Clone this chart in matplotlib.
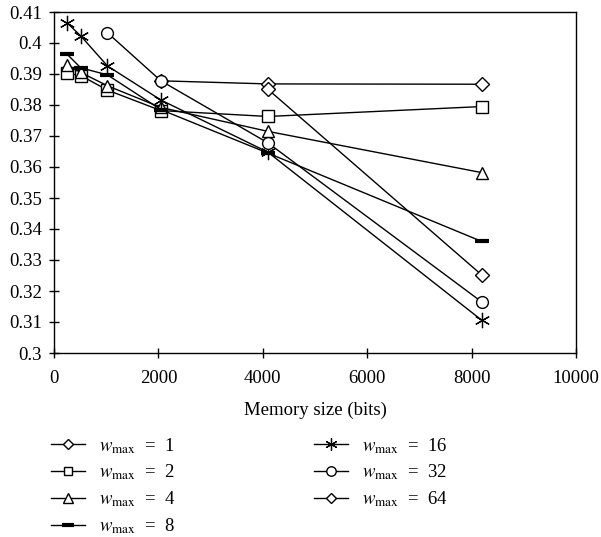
import matplotlib
matplotlib.use("Agg")
import matplotlib.pyplot as plt

plt.rcParams['font.family'] = ['Liberation Serif', 'DejaVu Serif']
plt.rcParams['mathtext.fontset'] = 'stix'

# data
x_w1 = [2048, 4096, 8192]
y_w1 = [0.3878, 0.3868, 0.3867]
x_w2 = [256, 512, 1024, 2048, 4096, 8192]
y_w2 = [0.3902, 0.3895, 0.3848, 0.3782, 0.3763, 0.3795]
x_w4 = [256, 512, 1024, 2048, 4096, 8192]
y_w4 = [0.3928, 0.3905, 0.3862, 0.3792, 0.3715, 0.3582]
x_w8 = [256, 512, 1024, 2048, 4096, 8192]
y_w8 = [0.3963, 0.3920, 0.3897, 0.3785, 0.3645, 0.3360]
x_w16 = [256, 512, 1024, 2048, 4096, 8192]
y_w16 = [0.4064, 0.4023, 0.3926, 0.3816, 0.3648, 0.3106]
x_w32 = [1024, 2048, 4096, 8192]
y_w32 = [0.4033, 0.3878, 0.3678, 0.3165]
x_w64 = [4096, 8192]
y_w64 = [0.3851, 0.3252]

labels = [r"$w_{\mathrm{max}}$  =  1", r"$w_{\mathrm{max}}$  =  2", r"$w_{\mathrm{max}}$  =  4",
          r"$w_{\mathrm{max}}$  =  8", r"$w_{\mathrm{max}}$  =  16", r"$w_{\mathrm{max}}$  =  32",
          r"$w_{\mathrm{max}}$  =  64"]
yticks = [0.3, 0.31, 0.32, 0.33, 0.34, 0.35, 0.36, 0.37, 0.38, 0.39, 0.4, 0.41]
ytick_labels = ["0.3", "0.31", "0.32", "0.33", "0.34", "0.35", "0.36", "0.37", "0.38", "0.39", "0.4", "0.41"]
xticks = [0, 2000, 4000, 6000, 8000, 10000]

FS = 13.5

fig = plt.figure(figsize=(6.01, 5.37), dpi=100)
ax = fig.add_axes([54/601, 1-353/537, (576-54)/601, (353-12)/537])

series = [
    (x_w1, y_w1, dict(marker='D', ms=7)),
    (x_w2, y_w2, dict(marker='s', ms=8)),
    (x_w4, y_w4, dict(marker='^', ms=9)),
    (x_w8, y_w8, dict(marker='_', ms=10, mew=3)),
    (x_w16, y_w16, dict(marker=(6, 2, 0), ms=11, mew=0.9)),
    (x_w32, y_w32, dict(marker='o', ms=8.5)),
    (x_w64, y_w64, dict(marker='D', ms=7)),
]
handles = []
for (xs, ys, st), lab in zip(series, labels):
    kw = dict(color='black', lw=1.0, mfc='white', mec='black', mew=st.get('mew', 1.0))
    st2 = {k: v for k, v in st.items() if k != 'mew'}
    h, = ax.plot(xs, ys, label=lab, **kw, **st2)
    handles.append(h)

ax.set_xlim(0, 10000)
ax.set_ylim(0.3, 0.41)
ax.set_xticks(xticks)
ax.set_xticklabels([str(v) for v in xticks])
ax.set_yticks(yticks)
ax.set_yticklabels(ytick_labels)
ax.tick_params(direction='inout', length=7, width=1, labelsize=FS, colors='black')
ax.tick_params(axis='x', pad=9)
ax.tick_params(axis='y', pad=5)
for s in ax.spines.values():
    s.set_linewidth(1.0)
    s.set_color('black')
ax.set_xlabel("Memory size (bits)", fontsize=FS, labelpad=10)

fig.legend(handles=handles, labels=labels, ncol=2, loc='upper left',
           bbox_to_anchor=(34/601, 1-419/537), frameon=False, fontsize=FS,
           handlelength=1.8, handletextpad=0.75, columnspacing=7.4,
           labelspacing=0.38, markerscale=0.8)

fig.savefig("out.png", dpi=100)
